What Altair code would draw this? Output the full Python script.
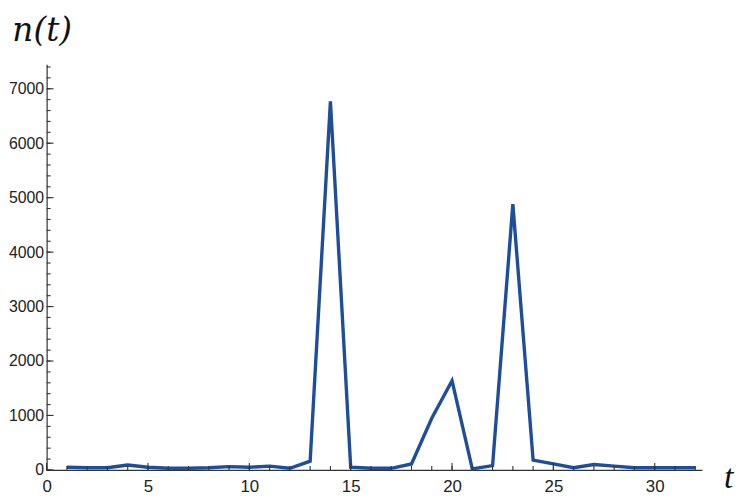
import altair as alt
import pandas as pd

t_vals = list(range(1, 33))
n_vals = [50, 40, 40, 90, 50, 30, 30, 40, 60, 50, 70, 30, 160, 6770,
          50, 30, 30, 110, 950, 1640, 20, 80, 4880, 180, 110, 40, 100, 70,
          40, 40, 40, 40]

x_major = [0, 5, 10, 15, 20, 25, 30]
x_minor = list(range(0, 33))
y_major = [0, 1000, 2000, 3000, 4000, 5000, 6000, 7000]
y_minor = list(range(0, 7401, 200))

df = pd.DataFrame({"t": t_vals, "n": n_vals})

W, H = 661, 409
XDOM = [0, 32.3]
YDOM = [0, 7440]
AX = "#333333"

xs = alt.Scale(domain=XDOM, nice=False, zero=False)
ys = alt.Scale(domain=YDOM, nice=False, zero=False)

main = alt.Chart(df).mark_line(color="#1d4d9b", strokeWidth=3.4, strokeJoin="miter").encode(
    x=alt.X("t:Q", scale=xs, axis=alt.Axis(
        orient="bottom", values=x_major, ticks=False, grid=False, format="d",
        domainColor=AX, domainWidth=1.2, labelFont="Liberation Sans", labelFontSize=17,
        labelColor="#222222", labelPadding=9, labelFlush=False,
        title="t", titleFont="Liberation Serif", titleFontStyle="italic",
        titleFontWeight="normal", titleFontSize=34, titleColor="#111111",
        titleX=W + 27, titleY=8, titleAngle=0, titleAlign="center", titleBaseline="middle")),
    y=alt.Y("n:Q", scale=ys, axis=alt.Axis(
        orient="left", values=y_major, ticks=False, grid=False, format="d",
        domainColor=AX, domainWidth=1.2, labelFont="Liberation Sans", labelFontSize=16,
        labelColor="#222222", labelPadding=3,
        title="n(t)", titleFont="DejaVu Serif", titleFontStyle="italic",
        titleFontWeight="normal", titleFontSize=33, titleColor="#111111",
        titleAngle=0, titleX=-5, titleY=-35, titleAlign="center", titleBaseline="middle")),
)

def xticks(vals, size):
    return alt.Chart(pd.DataFrame({"t": vals})).mark_rule(color=AX, strokeWidth=1.1).encode(
        x=alt.X("t:Q", scale=xs),
        y=alt.value(H),
        y2=alt.value(H - size),
    )

def yticks(vals, size):
    return alt.Chart(pd.DataFrame({"n": vals})).mark_rule(color=AX, strokeWidth=1.1).encode(
        y=alt.Y("n:Q", scale=ys),
        x=alt.value(0),
        x2=alt.value(size),
    )

chart = alt.layer(
    main,
    xticks(x_minor, 4),
    xticks(x_major, 7),
    yticks(y_minor, 4),
    yticks(y_major, 7),
).properties(
    width=W, height=H,
    autosize=alt.AutoSizeParams(type="none"),
    padding={"left": 39, "top": 55, "right": 38, "bottom": 26},
).configure_view(stroke=None).configure_axis(domainCap="square")

chart.save("out.html", embed_options={"renderer": "svg", "actions": False})
